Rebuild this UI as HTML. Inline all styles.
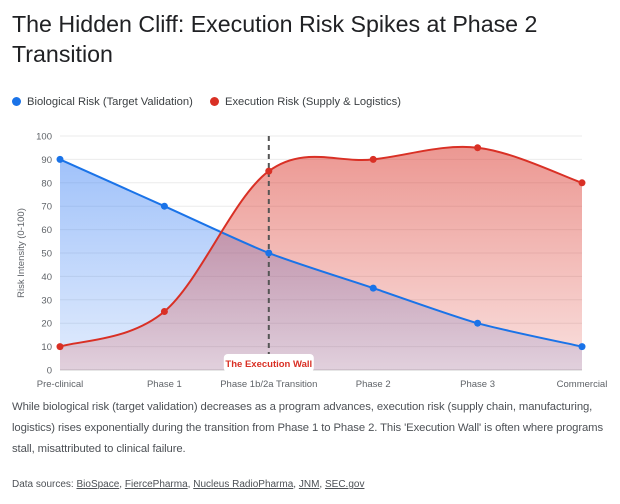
<!DOCTYPE html>
<html><head><meta charset="utf-8"><style>
body{margin:0;width:620px;height:504px;background:#fff;font-family:"Liberation Sans",sans-serif;overflow:hidden}
.t{position:absolute;left:12px;top:9px;font-size:23.2px;line-height:30px;color:#202124;width:600px}
.leg{position:absolute;top:96px;font-size:11.2px;color:#3c4043}
.dot{display:inline-block;width:9px;height:9px;border-radius:50%;margin-right:6px;vertical-align:-1px}
.p{position:absolute;left:12px;top:397px;width:605px;font-size:11.3px;line-height:21px;color:#4d5156;letter-spacing:-0.1px}
.src{position:absolute;left:12px;top:479px;font-size:10px;color:#4d5156}
.src a{color:#4d5156;text-decoration:underline}
</style></head><body>
<div class="t">The Hidden Cliff: Execution Risk Spikes at Phase 2 Transition</div>
<div class="leg" style="left:12px"><span class="dot" style="background:#1a73e8"></span>Biological Risk (Target Validation)</div>
<div class="leg" style="left:210px"><span class="dot" style="background:#d93025"></span>Execution Risk (Supply &amp; Logistics)</div>
<svg id="c" width="620" height="400" style="position:absolute;left:0;top:0">
<defs>
<linearGradient id="gb" x1="0" y1="0" x2="0" y2="1"><stop offset="0" stop-color="#4285f4" stop-opacity="0.5"/><stop offset="1" stop-color="#4285f4" stop-opacity="0.15"/></linearGradient>
<linearGradient id="gr" x1="0" y1="0" x2="0" y2="1"><stop offset="0" stop-color="#d93025" stop-opacity="0.5"/><stop offset="1" stop-color="#d93025" stop-opacity="0.15"/></linearGradient>
</defs>
</svg>
<div class="p">While biological risk (target validation) decreases as a program advances, execution risk (supply chain, manufacturing, logistics) rises exponentially during the transition from Phase 1 to Phase 2. This 'Execution Wall' is often where programs stall, misattributed to clinical failure.</div>
<div class="src">Data sources: <a>BioSpace</a>, <a>FiercePharma</a>, <a>Nucleus RadioPharma</a>, <a>JNM</a>, <a>SEC.gov</a></div>
<script>
const categories=["Pre-clinical","Phase 1","Phase 1b/2a Transition","Phase 2","Phase 3","Commercial"];
const bioValues=[90,70,50,35,20,10];
const execValues=[10,25,85,90,95,80];
const yTicks=[0,10,20,30,40,50,60,70,80,90,100];
const wallIndex=2;
const wallLabel="The Execution Wall";
const NS="http://www.w3.org/2000/svg";
const svg=document.getElementById('c');
const X0=60,X1=582,Y0=370,Y1=136;
const x=i=>X0+i*(X1-X0)/(categories.length-1);
const y=v=>Y0-(v/100)*(Y0-Y1);
function mk(t,a){const e=document.createElementNS(NS,t);for(const k in a)e.setAttribute(k,a[k]);svg.appendChild(e);return e;}
yTicks.forEach(v=>{
 const g=mk('line',{x1:X0,x2:X1,y1:y(v),y2:y(v),stroke:v===0?'#ccc':'#ebebeb','stroke-width':1});
 
 
 const t=mk('text',{x:52,y:y(v)+3.5,'text-anchor':'end','font-size':'9.5',fill:'#5f6368'});t.textContent=v;
 
 
});
categories.forEach((c,i)=>{
 const t=mk('text',{x:x(i),y:387,'text-anchor':'middle','font-size':'9.5',fill:'#5f6368'});t.textContent=c;
 
 
});
const yl=mk('text',{x:0,y:0,transform:'translate(24,253) rotate(-90)','text-anchor':'middle','font-size':'9.5',fill:'#5f6368'});yl.textContent='Risk Intensity (0-100)';


function smooth(vals,k){
 const p=vals.map((v,i)=>[x(i),y(v)]);let d='M'+p[0];
 for(let i=0;i<p.length-1;i++){
  const a=p[Math.max(i-1,0)],b=p[i],c=p[i+1],e=p[Math.min(i+2,p.length-1)];
  d+=' C'+(b[0]+(c[0]-a[0])*k)+','+(b[1]+(c[1]-a[1])*k)+' '+(c[0]-(e[0]-b[0])*k)+','+(c[1]-(e[1]-b[1])*k)+' '+c[0]+','+c[1];
 }return d;}
const bp=smooth(bioValues,0.12),rp=smooth(execValues,0.17);
const ba=mk('path',{d:bp+` L${X1},${Y0} L${X0},${Y0} Z`,fill:'url(#gb)'});


const ra=mk('path',{d:rp+` L${X1},${Y0} L${X0},${Y0} Z`,fill:'url(#gr)'});


const wl=mk('line',{x1:x(wallIndex),x2:x(wallIndex),y1:Y1,y2:356,stroke:'#555','stroke-width':2,'stroke-dasharray':'5,4'});


const bl=mk('path',{d:bp,fill:'none',stroke:'#1a73e8','stroke-width':2});


const rl=mk('path',{d:rp,fill:'none',stroke:'#d93025','stroke-width':2});


bioValues.forEach((v,i)=>{const c=mk('circle',{cx:x(i),cy:y(v),r:3.5,fill:'#1a73e8'});
 
 });
execValues.forEach((v,i)=>{const c=mk('circle',{cx:x(i),cy:y(v),r:3.5,fill:'#d93025'});
 
 });
const bx=mk('rect',{x:x(wallIndex)-45,y:354,width:90,height:18,rx:4,fill:'#fff'});


const wt=mk('text',{x:x(wallIndex),y:367,'text-anchor':'middle','font-size':'9.5','font-weight':'bold',fill:'#d93025'});wt.textContent=wallLabel;


</script>
</body></html>
